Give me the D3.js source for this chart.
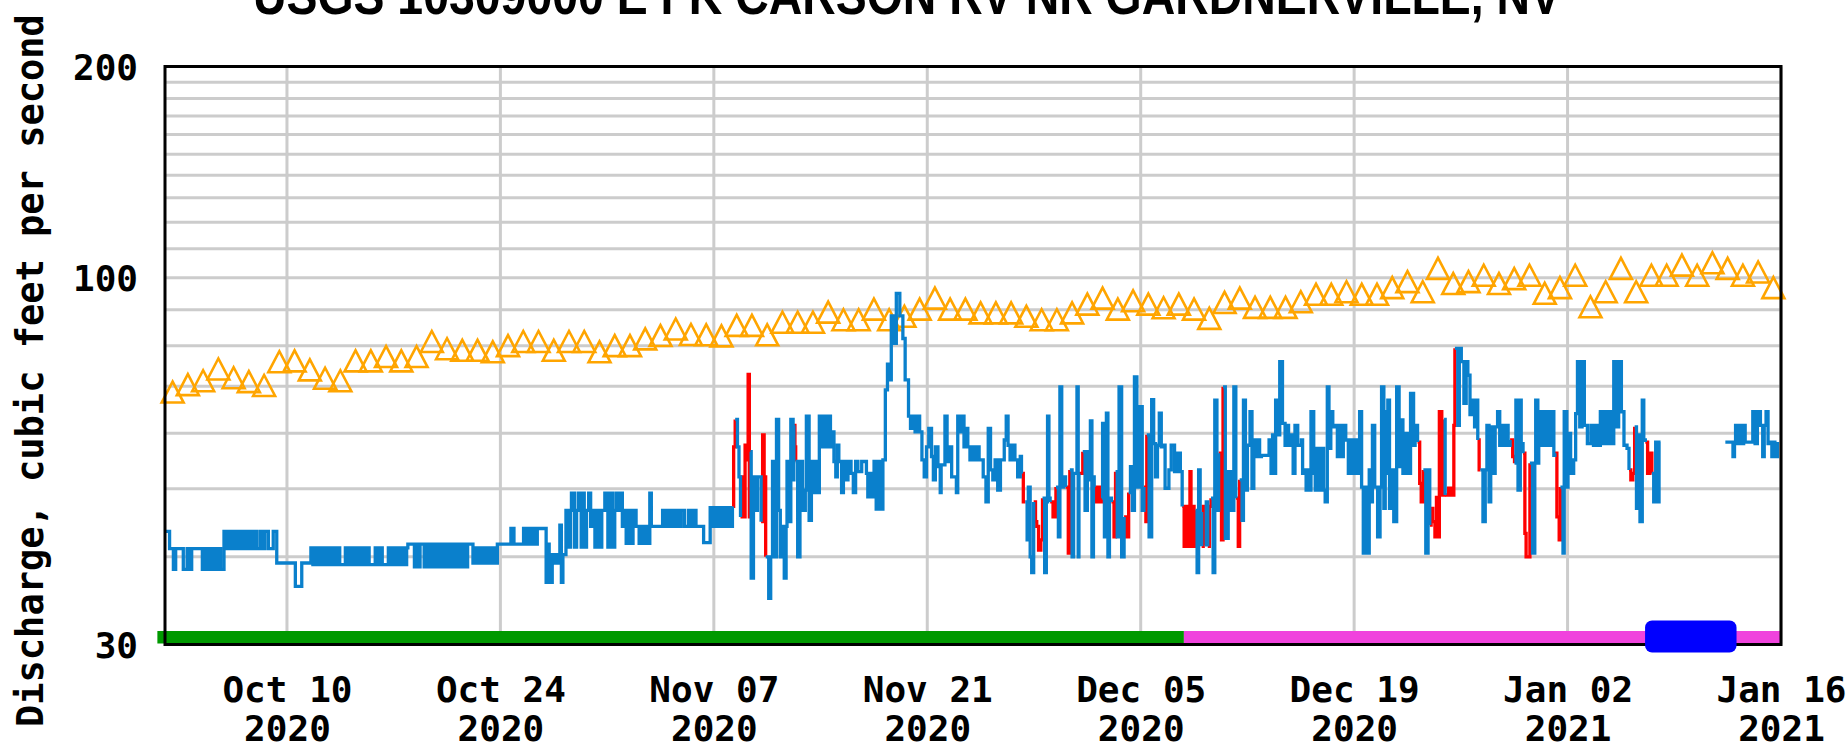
<!DOCTYPE html>
<html>
<head>
<meta charset="utf-8">
<script src="https://cdn.jsdelivr.net/npm/d3@7"></script>
<style>
  body { margin: 0; background: #fff; }
  svg { display: block; }
</style>
</head>
<body>
<svg id="chart" width="1847" height="743"></svg>
<script>
const titleText = "USGS 10309000 E FK CARSON RV NR GARDNERVILLE, NV";
const yTitle = "Discharge, cubic feet per second";

const seriesStart = "2020-10-02"; // day 0 of every [day, cfs] pair below
const xTickDates = ["2020-10-10", "2020-10-24", "2020-11-07", "2020-11-21",
                    "2020-12-05", "2020-12-19", "2021-01-02", "2021-01-16"];
const yTickValues = [30, 100, 200];
const yGridValues = [40, 50, 60, 70, 80, 90, 100, 110, 120, 130, 140, 150, 160, 170, 180, 190];

// daily median of daily mean values, one per day starting Oct 2
const medianDaily = [
  68.7, 70.4, 71.3, 74.1, 72.0, 71.1, 70.2, 75.9, 76.1, 73.9,
  71.9, 71.3, 76.1, 76.1, 77.2, 76.1, 77.2, 81.1, 79.2, 78.8,
  78.8, 78.4, 80.0, 81.1, 81.1, 78.8, 81.1, 81.1, 78.4, 80.0,
  80.0, 81.8, 82.7, 84.5, 83.0, 82.9, 82.6, 85.5, 85.5, 82.9,
  86.4, 86.4, 86.4, 89.3, 87.1, 87.1, 90.2, 87.1, 88.1, 90.2,
  93.5, 90.2, 90.2, 89.1, 89.1, 89.1, 88.1, 87.1, 87.1, 89.1,
  91.7, 93.5, 90.2, 92.7, 91.7, 90.6, 91.7, 90.2, 87.5, 92.2,
  93.5, 90.7, 90.7, 90.7, 92.4, 94.7, 94.7, 95.5, 94.7, 94.7,
  96.8, 98.7, 95.5, 103.1, 98.1, 98.7, 100.8, 98.1, 99.7, 100.8,
  95.0, 96.8, 100.8, 90.9, 95.5, 103.1, 95.5, 100.8, 100.8, 104.2,
  100.8, 105.0, 103.1, 100.8, 101.9, 96.8
];

// instantaneous discharge: [days since seriesStart, cfs, flag] (flag 1 = red segment)
const flowOct = [
  [0,43.5],[0.3,41.1],[0.55,38.4],[0.7,41.1],[1.2,38.4],[1.45,41.1],[1.55,38.4],[1.75,41.1],
  [2.45,38.4],[2.6,41.1],[2.75,38.4],[2.9,41.1],[3.05,38.4],[3.2,41.1],[3.35,38.4],[3.5,41.1],[3.65,38.4],
  [3.87,43.5],[4.05,41.1],[4.2,43.5],[4.35,41.1],[4.45,43.5],[4.53,41.1],[4.7,43.5],[4.85,41.1],[5.0,43.5],[5.15,41.1],[5.3,43.5],[5.4,41.1],
  [5.58,43.5],[5.75,41.1],[5.85,43.5],[6.0,41.1],[6.23,43.5],[6.4,41.1],[6.55,43.5],[6.78,41.1],[7.1,43.5],[7.33,39.2],[8.55,36.3],[8.97,39.2],
  [9.57,41.2],[9.7,39.0],[9.85,41.2],[10.0,39.0],[10.15,41.2],[10.3,39.0],[10.45,41.2],[10.6,39.0],[10.75,41.2],[10.9,39.0],[11.05,41.2],[11.2,39.0],[11.35,41.2],[11.46,39.0],
  [11.83,41.2],[11.98,39.0],[12.13,41.2],[12.28,39.0],[12.43,41.2],[12.59,39.0],[12.76,41.2],[12.9,39.0],[13.05,41.2],[13.2,39.0],[13.3,41.2],[13.39,39.0],
  [13.79,41.2],[13.95,39.0],[14.1,41.2],[14.25,39.0],[14.65,41.2],[14.8,39.0],[14.95,41.2],[15.1,39.0],[15.25,41.2],[15.4,39.0],[15.55,41.2],[15.7,39.0],[15.85,41.2],
  [15.93,41.7],[16.36,38.7],[16.5,41.7],[16.6,38.7],[16.73,41.7],
  [17.0,38.7],[17.15,41.7],[17.3,38.7],[17.45,41.7],[17.6,38.7],[17.75,41.7],[17.9,38.7],[18.05,41.7],[18.2,38.7],[18.35,41.7],[18.5,38.7],[18.65,41.7],[18.8,38.7],[18.95,41.7],[19.1,38.7],[19.25,41.7],[19.4,38.7],[19.55,41.7],[19.7,38.7],[19.85,41.7],
  [20.2,39.2],[20.35,41.2],[20.5,39.2],[20.65,41.2],[20.8,39.2],[20.95,41.2],[21.1,39.2],[21.25,41.2],[21.4,39.2],[21.55,41.2],[21.7,39.2],[21.8,41.7],
  [22.69,43.9],[22.89,41.7],[23.52,43.9],[23.67,41.7],[23.82,43.9],[23.97,41.7],[24.12,43.9],[24.27,41.7],[24.42,43.9],
  [25.0,36.8],[25.1,41.7],[25.2,39.2],[25.3,36.8],[25.4,40.3],[25.55,39.2],[25.7,40.3],[25.8,39.2],[25.9,44.4],[26.0,36.8],[26.1,40.3],
  [26.3,46.6],[26.45,41.3],[26.6,46.6],[26.66,49.3],[26.86,41.3],[27.0,46.6],[27.11,49.3],[27.3,41.3],[27.4,49.3],[27.5,41.3],[27.65,46.6],[27.79,49.3],[27.92,44.2],
  [28.05,46.6],[28.2,41.3],[28.35,46.6],[28.5,41.3],[28.65,46.6],[28.85,49.3],[29.05,41.3],[29.17,49.3],[29.37,41.3],[29.5,46.6],[29.6,49.3],[29.75,46.6],[29.85,49.3]
];

const flowNov = [
  [30.0,44.2],[30.1,46.6],[30.25,41.8],[30.4,46.6],[30.55,41.8],[30.7,46.6],[30.9,44.2],[31.1,41.8],[31.25,44.2],[31.4,41.8],[31.55,44.2],[31.69,41.8],[31.8,49.3],[31.9,44.2],
  [32.64,46.6],[32.8,44.2],[32.95,46.6],[33.1,44.2],[33.25,46.6],[33.4,44.2],[33.55,46.6],[33.7,44.2],[33.85,46.6],[34.07,44.2],[34.33,46.6],[34.5,44.2],[34.65,46.6],[34.83,44.2],
  [35.33,41.9],[35.76,47.0],[35.9,44.2],[36.05,47.0],[36.2,44.2],[36.35,47.0],[36.5,44.2],[36.65,47.0],[36.8,44.2],[36.95,47.0],[37.1,44.2],
  [37.22,47.2,1],[37.3,57.4,1],[37.4,62.8],[37.55,57.4],[37.65,52.0],[37.75,45.6,1],[37.85,52.0,1],[37.95,45.6,1],[38.05,57.7,1],[38.15,55.0,1],[38.25,72.8,1],[38.33,45.6,1],
  [38.4,56.5],[38.45,37.3],[38.6,52.0],[38.75,46.6],[38.86,52.0],[39.1,44.9,1],[39.2,59.7,1],[39.3,52.0,1],
  [39.4,40.0],[39.6,34.9],[39.73,40.0],[39.85,54.7],[39.95,40.0],[40.11,62.8],[40.25,46.6],[40.36,40.0],[40.55,44.2],[40.62,37.3],[40.74,44.2],[40.8,54.7],[40.95,44.9],
  [41.05,62.8],[41.2,51.5],[41.25,61.6,1],[41.32,57.4,1],[41.37,54.7],[41.5,40.0],[41.65,54.7],[41.82,46.6],[42.0,49.8],[42.07,63.5],[42.25,45.1],[42.4,54.7],[42.5,49.4],
  [42.65,54.7],[42.8,49.4],[42.92,63.5],[43.05,57.4],[43.2,63.5],[43.35,57.4],[43.5,63.5],[43.65,57.4],[43.75,60.3],[43.88,54.7],[44.0,52.0],[44.1,57.7],[44.2,54.7],
  [44.38,49.4],[44.5,54.7],[44.65,51.5],[44.8,54.7],[45.0,52.6],[45.15,49.4],[45.3,54.7],[45.45,52.9],[45.7,54.7],[46.01,52.6],[46.1,48.7],[46.25,52.6],[46.4,48.7],
  [46.51,54.7],[46.65,46.8],[46.8,54.7],[46.95,46.8],[47.09,55.0],[47.25,69.2],[47.39,75.3],[47.55,71.5],[47.64,88.2],[47.85,80.6],[47.97,95.0],[48.2,88.2],[48.4,81.9],
  [48.55,71.5],[48.77,63.5],[48.9,61.0],[49.05,63.5],[49.2,60.3],[49.35,63.5],[49.5,60.3],[49.65,55.0],[49.8,52.0],[49.95,57.4],[50.1,61.0],[50.28,55.6],[50.4,51.5],
  [50.53,57.4],[50.7,53.8],[50.85,49.4],[50.91,54.1],[51.16,63.5],[51.3,54.7],[51.45,57.4],[51.6,52.0],[51.91,49.4],[52.0,63.5],[52.15,60.3],[52.3,63.5],[52.41,57.4],
  [52.55,61.0],[52.66,57.4],[52.8,55.0],[52.97,57.4],[53.1,55.0],[53.25,57.4],[53.4,55.0],[53.67,52.0],[53.85,47.9],[54.0,61.0],[54.15,53.2],[54.3,51.5],[54.45,55.0],
  [54.62,49.8],[54.8,55.0],[55.05,58.7],[55.18,63.5],[55.3,57.7],[55.43,55.0],[55.6,57.7],[55.75,55.0],[55.93,52.0],[56.1,55.6],[56.18,52.6,1],[56.3,47.9,1],
  [56.43,47.9],[56.55,42.3],[56.63,50.3],[56.75,40.0],[56.85,38.0],[56.98,47.9,1],[57.1,44.9,1],[57.18,44.2,1],[57.3,40.9,1],[57.45,42.3,1],
  [57.56,48.5],[57.7,38.0],[57.81,47.9],[57.89,63.5],[57.98,48.5],[58.06,47.9,1],[58.25,45.6,1],[58.44,50.3],[58.6,42.7],[58.7,69.9],[58.82,50.3],[58.95,52.0],
  [59.07,50.3,1],[59.25,40.5,1],[59.35,53.2],[59.5,40.0],[59.6,52.6],[59.82,69.9],[59.9,40.0],[59.95,52.6,1]
];

const flowDec = [
  [60.2,56.5],[60.35,46.6],[60.5,56.5],[60.6,51.5],[60.7,62.5],[60.8,40.0],[60.9,52.0],
  [60.95,50.3,1],[61.1,47.9,1],[61.25,50.3,1],[61.35,47.9,1],[61.45,48.5],
  [61.5,62.0],[61.62,42.7],[61.75,64.1],[61.85,40.0],[61.95,48.5],
  [62.08,47.9,1],[62.25,42.7,1],[62.35,52.9],[62.46,42.7],[62.58,69.9],[62.75,40.0],[62.91,45.6,1],[63.05,42.7,1],[63.21,49.4],[63.33,53.8],[63.45,46.6],[63.59,72.2],[63.75,50.3],
  [63.96,65.5],[64.1,46.6],[64.21,50.3,1],[64.34,44.9,1],[64.4,59.7],[64.55,42.7],[64.72,67.0],[64.85,58.0],[64.97,52.0],[65.1,57.7],[65.22,64.1],[65.35,57.4],[65.47,57.7],
  [65.6,50.1],[65.85,53.2],[66.0,57.7],[66.22,52.9],[66.4,56.2],[66.6,52.9],
  [66.72,47.2,1],[66.85,41.4,1],[66.95,47.2,1],[67.05,41.4,1],[67.15,46.1,1],[67.23,52.9,1],[67.3,41.4,1],[67.4,47.2,1],[67.5,41.4,1],
  [67.6,46.6],[67.7,38.0],[67.8,53.2],[67.9,46.1],[68.0,41.4,1],[68.1,47.2,1],[68.2,41.6],[68.3,47.9],[68.4,41.4,1],[68.5,47.2,1],
  [68.61,48.5],[68.75,38.0],[68.86,66.9],[69.0,46.6],[69.11,56.2,1],[69.3,42.3,1],[69.4,69.9],[69.55,42.5],[69.74,52.9],[69.9,46.6],[70.11,69.9],
  [70.24,48.5,1],[70.4,41.4,1],[70.49,51.5],[70.65,45.1],[70.74,66.9],[70.87,49.8],[71.0,57.7],
  [71.17,64.4],[71.3,50.1],[71.42,58.7],[71.55,55.6],[71.7,58.7],[71.8,55.6],[71.92,55.8],[72.42,58.7],[72.55,52.6],[72.65,59.7],[72.79,52.6],[72.85,66.9],[73.0,59.7],
  [73.12,75.9],[73.3,62.0],[73.47,57.7],[73.6,61.6],[73.7,57.7],[73.84,59.7],[74.0,52.6],[74.12,61.6],[74.3,57.7],[74.54,58.7],[74.62,52.6],[74.72,53.2],[74.85,49.8],
  [75.0,53.2],[75.1,49.8],[75.17,64.4],[75.35,52.6],[75.45,49.8],[75.54,57.1],[75.7,49.8],[75.85,57.1],[76.0,49.8],[76.1,47.9],[76.24,69.9],[76.35,57.1],[76.47,64.4],
  [76.6,61.3],[76.79,61.6],[76.9,55.6],[77.0,61.6],[77.15,55.6],[77.29,61.6],[77.45,58.7],[77.62,52.6],[77.75,58.7],[77.85,52.6],[77.96,58.7],[78.15,52.6],[78.36,64.4],
  [78.49,50.3],[78.6,40.5],[78.75,50.3],[78.9,40.5],[78.99,53.2],[79.1,47.9],[79.2,61.6],[79.35,50.3],[79.54,42.7],[79.7,50.3],[79.8,69.9],[79.95,46.9],[80.04,64.4],
  [80.15,52.6],[80.21,66.9],[80.32,46.9],[80.41,53.2],[80.6,44.9],[80.79,69.9],[80.95,53.8],[81.04,62.7],[81.2,52.6],[81.41,60.0],[81.6,52.6],[81.7,68.4],[81.9,57.7],[82.0,61.6],
  [82.16,58.3,1],[82.3,50.9,1],[82.4,47.9,1],[82.54,53.2],[82.7,40.5],[82.85,53.2],
  [82.96,44.4,1],[83.05,46.9,1],[83.16,44.9,1],[83.3,42.7,1],[83.4,48.6,1],[83.5,42.7,1],[83.59,64.4,1],[83.75,49.0,1],[83.9,62.8],[83.97,49.0,1],[84.2,50.1,1],[84.4,49.0,1],[84.54,61.6,1],
  [84.61,79.3],[84.8,61.6],[84.9,79.3],[85.03,75.9],[85.2,66.2],[85.35,75.9],[85.46,72.6],[85.6,63.8],[85.7,66.9],[85.9,61.3],[86.0,66.9],[86.11,58.7,1],[86.2,53.2,1],
  [86.28,53.2],[86.45,44.9],[86.6,53.2],[86.71,61.6],[86.85,47.9],[86.96,61.3],[87.1,52.6],[87.25,61.3],[87.41,64.4],[87.55,57.7],[87.66,61.6],[87.8,57.7],[87.95,61.6],[88.1,57.7],
  [88.23,58.7,1],[88.4,55.6,1],[88.52,54.4],[88.61,66.9],[88.75,49.8],[88.9,66.9],[88.96,58.0],[89.08,56.2,1],[89.2,43.2,1],[89.28,40.0,1],
  [89.53,54.4],[89.7,40.5],[89.85,54.4],[89.91,66.9],[90.05,54.4],[90.11,64.4],[90.25,57.7],[90.4,64.4],[90.55,57.7],[90.7,64.4],[90.85,57.7]
];

const flowJan = [
  [91.0,64.4],[91.1,55.8],[91.16,56.2,1],[91.3,45.6,1],[91.45,42.3,1],[91.53,50.3],[91.7,40.5],[91.78,64.4],[91.95,50.3],[92.03,60.0],[92.2,52.6],[92.4,55.0],[92.53,64.0],
  [92.65,75.9],[92.8,61.3],[92.95,75.9],[93.1,61.6],[93.3,58.0],[93.53,61.6],[93.7,57.7],[93.85,61.6],[94.0,57.7],[94.15,64.4],[94.3,58.0],[94.45,64.4],[94.6,58.0],
  [94.75,64.4],[94.9,58.0],[95.03,75.9],[95.2,61.3],[95.35,75.9],[95.53,64.4],[95.7,57.7],[95.9,57.1],[96.03,53.2,1],[96.15,51.5,1],[96.28,52.6,1],
  [96.4,61.3],[96.52,46.9],[96.6,59.7],[96.75,44.9],[96.9,66.9],[97.0,58.7],[97.1,58.3,1],[97.25,52.6,1],[97.4,56.2,1],
  [97.53,52.6],[97.65,47.9],[97.78,58.3],[97.9,47.9],[98.0,58.3],[98.1,58.3],[98.2,null],
  [102.35,58.3],[102.85,55.6],[102.95,58.3],[103.02,61.6],[103.15,58.0],[103.3,61.6],[103.45,58.0],[103.55,61.6],[103.65,58.3],
  [104.15,64.4],[104.3,58.0],[104.45,64.4],[104.65,61.6],[104.8,55.6],[104.9,61.6],[105.02,64.4],[105.15,58.0],[105.27,58.3],[105.4,55.6],[105.5,58.3],[105.6,55.6],[105.77,58.3]
];

// data-approval bar along the bottom
const approvalSpans = [
  { from: "2020-10-01T12:00", to: "2020-12-07T20:00", status: "Approved" },
  { from: "2020-12-07T20:00", to: "2021-01-16T00:00", status: "Provisional" }
];
const iceSpans = [{ from: "2021-01-07T02:00", to: "2021-01-13T02:00" }];

const width = 1847, height = 743;
const margin = { left: 165, right: 66, top: 66.5, bottom: 98.5 };

const parseDay = d3.utcParse("%Y-%m-%d");
const parseTime = d3.utcParse("%Y-%m-%dT%H:%M");
const t0 = parseDay(seriesStart);
const dayMs = 864e5;
const toDate = (d) => new Date(t0.getTime() + d * dayMs);

const x = d3.scaleUtc()
    .domain([t0, parseDay("2021-01-16")])
    .range([margin.left, width - margin.right]);

const y = d3.scaleLog()
    .domain([30, 200])
    .range([height - margin.bottom, margin.top]);

const colors = {
    grid: "#cccccc",
    flow: "#0a80cc",
    flagged: "#ff0000",
    median: "#ffa500",
    Approved: "#009900",
    Provisional: "#f043dd",
    ice: "#0000ff"
};

const svg = d3.select("#chart")
    .attr("viewBox", [0, 0, width, height]);

svg.append("rect").attr("width", width).attr("height", height).attr("fill", "#fff");

const x0 = margin.left, x1 = width - margin.right;
const yTop = margin.top, yBot = height - margin.bottom;

// grid
const grid = svg.append("g");
grid.selectAll("line.h")
    .data(yGridValues)
    .join("line")
    .attr("x1", x0).attr("x2", x1)
    .attr("y1", d => y(d)).attr("y2", d => y(d))
    .attr("stroke", colors.grid).attr("stroke-width", 3);

const tickDates = xTickDates.map(parseDay);
grid.selectAll("line.v")
    .data(tickDates)
    .join("line")
    .attr("x1", d => x(d)).attr("x2", d => x(d))
    .attr("y1", yTop).attr("y2", yBot)
    .attr("stroke", colors.grid).attr("stroke-width", 3);

// median triangles
svg.append("g")
    .selectAll("path")
    .data(medianDaily)
    .join("path")
    .attr("d", (v, i) => {
        const cx = x(toDate(i + 0.5)), cy = y(v);
        return `M${cx - 11},${cy + 10.5}L${cx},${cy - 10.5}L${cx + 11},${cy + 10.5}Z`;
    })
    .attr("fill", "none")
    .attr("stroke", colors.median)
    .attr("stroke-width", 2.6);

// discharge line, split into runs of equal flag
const flow = [...flowOct, ...flowNov, ...flowDec, ...flowJan];
const runs = [];
let cur = null;
flow.forEach(p => {
    if (p[1] == null) {
        if (cur) { runs.push(cur); cur = null; }
        return;
    }
    const flag = p[2] || 0;
    if (cur && cur.flag !== flag) {
        cur.pts.push(p);
        runs.push(cur);
        cur = null;
    }
    if (!cur) cur = { flag, pts: [] };
    cur.pts.push(p);
});
if (cur) runs.push(cur);

const line = d3.line()
    .x(p => x(toDate(p[0])))
    .y(p => y(p[1]))
    .curve(d3.curveStepAfter);

const lineG = svg.append("g").attr("fill", "none").attr("stroke-width", 3.3);
lineG.selectAll("path.red")
    .data(runs.filter(r => r.flag === 1))
    .join("path")
    .attr("d", r => line(r.pts))
    .attr("stroke", colors.flagged);
lineG.selectAll("path.blue")
    .data(runs.filter(r => r.flag === 0))
    .join("path")
    .attr("d", r => line(r.pts))
    .attr("stroke", colors.flow);

// approval bar
svg.append("g")
    .selectAll("rect")
    .data(approvalSpans)
    .join("rect")
    .attr("x", d => x(parseTime(d.from)))
    .attr("width", d => x(parseTime(d.to)) - x(parseTime(d.from)))
    .attr("y", yBot - 13.5)
    .attr("height", 12.5)
    .attr("fill", d => colors[d.status]);

// frame
svg.append("rect")
    .attr("x", x0).attr("y", yTop)
    .attr("width", x1 - x0).attr("height", yBot - yTop)
    .attr("fill", "none").attr("stroke", "#000").attr("stroke-width", 3);

// ice period
svg.append("g")
    .selectAll("rect")
    .data(iceSpans)
    .join("rect")
    .attr("x", d => x(parseTime(d.from)))
    .attr("width", d => x(parseTime(d.to)) - x(parseTime(d.from)))
    .attr("y", yBot - 24)
    .attr("height", 32)
    .attr("rx", 7)
    .attr("fill", colors.ice);

// axes
const monoFont = "'DejaVu Sans Mono', 'Liberation Mono', monospace";

const xAxis = svg.append("g")
    .attr("transform", `translate(0,${yBot})`)
    .call(d3.axisBottom(x).tickValues(tickDates).tickSize(0));
xAxis.select(".domain").remove();
xAxis.selectAll(".tick text").each(function (d) {
    const t = d3.select(this)
        .attr("font-family", monoFont)
        .attr("font-weight", "bold")
        .attr("font-size", 36)
        .attr("fill", "#000")
        .attr("dy", null)
        .text(null);
    t.append("tspan").attr("x", 0).attr("y", 57).text(d3.utcFormat("%b %d")(d));
    t.append("tspan").attr("x", 0).attr("y", 96.5).text(d3.utcFormat("%Y")(d));
});

const yAxis = svg.append("g")
    .attr("transform", `translate(${x0},0)`)
    .call(d3.axisLeft(y).tickValues(yTickValues).tickFormat(d3.format("d")).tickSize(0).tickPadding(27));
yAxis.select(".domain").remove();
yAxis.selectAll(".tick text")
    .attr("font-family", monoFont)
    .attr("font-weight", "bold")
    .attr("font-size", 36)
    .attr("fill", "#000")
    .attr("dy", "0.36em");

svg.append("text")
    .attr("transform", "translate(43,727) rotate(-90)")
    .attr("font-family", monoFont)
    .attr("font-weight", "bold")
    .attr("font-size", 37)
    .attr("fill", "#000")
    .text(yTitle);

svg.append("text")
    .attr("x", 253)
    .attr("y", 14)
    .attr("font-family", "'Liberation Sans', Arial, sans-serif")
    .attr("font-weight", "bold")
    .attr("font-size", 54)
    .attr("textLength", 1308)
    .attr("lengthAdjust", "spacingAndGlyphs")
    .attr("fill", "#000")
    .text(titleText);
</script>
</body>
</html>
